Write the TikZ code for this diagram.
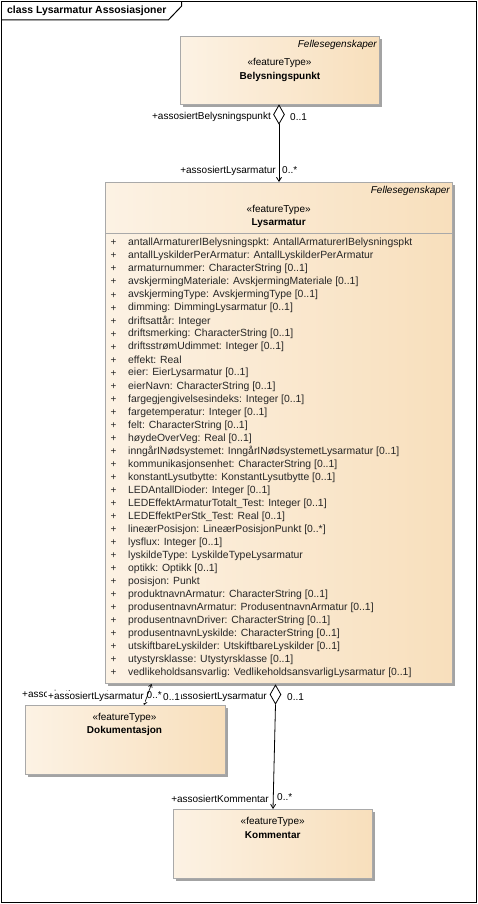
\documentclass[tikz,border=0pt]{standalone}
\usepackage{fontspec}
\setmainfont{Liberation Sans}
\usetikzlibrary{arrows.meta,shapes.geometric,shadows}
\definecolor{boxl}{HTML}{FCF2E4}
\definecolor{boxr}{HTML}{F8DFBC}
\definecolor{boxd}{HTML}{A9A9A9}
\definecolor{shad}{HTML}{A3A3A3}
\begin{document}
\begin{tikzpicture}[x=1pt,y=-1pt,
  umlbox/.style={draw=boxd, line width=0.9pt, left color=boxl, right color=boxr,
    anchor=north west, inner sep=0pt,
    drop shadow={shadow xshift=3pt, shadow yshift=-3pt, fill=shad, opacity=1}},
  lbl/.style={font=\fontsize{10}{12}\selectfont, inner sep=0pt},
  lblw/.style={lbl, fill=white, inner xsep=1pt, inner ysep=1pt},
  bold/.style={lbl, font=\fontsize{10}{12}\selectfont\bfseries},
  ital/.style={lbl, font=\fontsize{10}{12}\selectfont\itshape},
  attr/.style={lbl, font=\fontsize{10.4}{12}\selectfont, anchor=west, text=black!85},
  plus/.style={lbl, anchor=center, text=black!85},
  aggr/.style={diamond, draw=black, fill=white, line width=0.8pt, inner sep=0pt,
    minimum width=11pt, minimum height=19pt},
  conn/.style={draw=black, line width=0.8pt},
  nav/.style={-{Straight Barb[length=4pt,width=5pt]}},
  navboth/.style={{Straight Barb[length=3pt,width=4pt]}-{Straight Barb[length=3pt,width=4pt]}}
]
\useasboundingbox (0,0) rectangle (478,904);
\fill[white] (0,0) rectangle (478,904);

% frame
\draw[line width=1pt] (1.5,1.5) rectangle (476.5,902.5);
\draw[line width=1pt] (1.5,20) -- (168.3,20) -- (181.7,6) -- (181.7,1.5);
\node[bold, font=\fontsize{10.4}{12}\selectfont\bfseries, anchor=west] (title) at (7,11) {class Lysarmatur Assosiasjoner};

% Belysningspunkt
\node[umlbox, minimum width=199pt, minimum height=68pt] (bel) at (180,36) {};
\node[ital, anchor=east] (belfs) at (377,44.5) {Fellesegenskaper};
\node[lbl] (belst) at (279.5,63.3) {«featureType»};
\node[bold] (belnm) at (280,76.7) {Belysningspunkt};

% Lysarmatur
\node[umlbox, minimum width=347pt, minimum height=501pt] (lys) at (105,182) {};
\node[ital, anchor=east] (lysfs) at (450,191) {Fellesegenskaper};
\node[lbl] (lysst) at (278.7,210) {«featureType»};
\node[bold] (lysnm) at (278.7,222.7) {Lysarmatur};
\draw[draw=boxd, line width=0.9pt] (lys.north west |- 0,233) coordinate (sepl) -- (lys.north east |- 0,233) coordinate (sepr);

\foreach \t [count=\i] in {
  {antallArmaturerIBelysningspkt: AntallArmaturerIBelysningspkt},
  {antallLyskilderPerArmatur: AntallLyskilderPerArmatur},
  {armaturnummer: CharacterString [0..1]},
  {avskjermingMateriale: AvskjermingMateriale [0..1]},
  {avskjermingType: AvskjermingType [0..1]},
  {dimming: DimmingLysarmatur [0..1]},
  {driftsattår: Integer},
  {driftsmerking: CharacterString [0..1]},
  {driftsstrømUdimmet: Integer [0..1]},
  {effekt: Real},
  {eier: EierLysarmatur [0..1]},
  {eierNavn: CharacterString [0..1]},
  {fargegjengivelsesindeks: Integer [0..1]},
  {fargetemperatur: Integer [0..1]},
  {felt: CharacterString [0..1]},
  {høydeOverVeg: Real [0..1]},
  {inngårINødsystemet: InngårINødsystemetLysarmatur [0..1]},
  {kommunikasjonsenhet: CharacterString [0..1]},
  {konstantLysutbytte: KonstantLysutbytte [0..1]},
  {LEDAntallDioder: Integer [0..1]},
  {LEDEffektArmaturTotalt\_Test: Integer [0..1]},
  {LEDEffektPerStk\_Test: Real [0..1]},
  {lineærPosisjon: LineærPosisjonPunkt [0..*]},
  {lysflux: Integer [0..1]},
  {lyskildeType: LyskildeTypeLysarmatur},
  {optikk: Optikk [0..1]},
  {posisjon: Punkt},
  {produktnavnArmatur: CharacterString [0..1]},
  {produsentnavnArmatur: ProdusentnavnArmatur [0..1]},
  {produsentnavnDriver: CharacterString [0..1]},
  {produsentnavnLyskilde: CharacterString [0..1]},
  {utskiftbareLyskilder: UtskiftbareLyskilder [0..1]},
  {utystyrsklasse: Utystyrsklasse [0..1]},
  {vedlikeholdsansvarlig: VedlikeholdsansvarligLysarmatur [0..1]}} {
  \node[plus] (p\i) at (113.5,{243+(\i-1)*13.03}) {+};
  \node[attr] (a\i) at (128,{243+(\i-1)*13.03}) {\t};
}

% Dokumentasjon
\node[umlbox, minimum width=200pt, minimum height=69pt] (dok) at (25,705) {};
\node[lbl] (dokst) at (124.5,718.3) {«featureType»};
\node[bold] (doknm) at (124.5,731) {Dokumentasjon};

% Kommentar
\node[umlbox, minimum width=199pt, minimum height=69pt] (kom) at (173,809) {};
\node[lbl] (komst) at (272.7,822) {«featureType»};
\node[bold] (komnm) at (272.7,835) {Kommentar};

% association Belysningspunkt - Lysarmatur
\node[aggr] (d1) at (279,114.5) {};
\draw[conn, nav] (d1.south) -- (lys.north -| d1.south);
\node[lbl, anchor=east] (r1a) at (271,117) {+assosiertBelysningspunkt};
\node[lbl, anchor=west] (m1a) at (290,117) {0..1};
\node[lbl, anchor=east] (r1b) at (276,171) {+assosiertLysarmatur};
\node[lbl, anchor=west] (m1b) at (282,170) {0..*};

% association Lysarmatur - Dokumentasjon
\coordinate (dtop) at (151.5,0);
\coordinate (dbot) at (144,0);
\draw[conn, line width=0.6pt, navboth] (lys.south -| dtop) -- (dok.north -| dbot);
\node[lbl, anchor=west] (m2a) at (146.5,695.5) {0..*};
\node[lblw, anchor=west] (r2a) at (21,694.5) {+assosiertLysarmatur};
\node[lblw, anchor=west] (r2b) at (47,697) {+assosiertLysarmatur};

% association Lysarmatur - Kommentar
\node[aggr] (d2) at (275.5,694.5) {};
\coordinate (kt) at (273,0);
\draw[conn, nav] (d2.south) -- (kom.north -| kt);
\node[lblw, anchor=east] (r3a) at (268,697) {+assosiertLysarmatur};
\node[lblw, anchor=west] (m2b) at (162,697) {0..1};
\node[lbl, anchor=west] (m3a) at (287,697) {0..1};
\node[lbl, anchor=east] (r3b) at (269,799) {+assosiertKommentar};
\node[lbl, anchor=west] (m3b) at (277,797) {0..*};
\end{tikzpicture}
\end{document}
